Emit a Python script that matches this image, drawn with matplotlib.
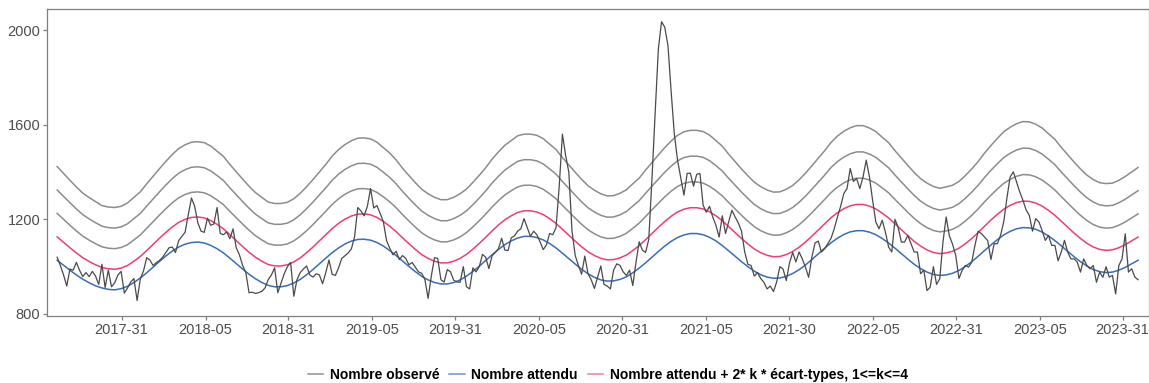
import pandas as pd
import matplotlib
matplotlib.use("Agg")
import matplotlib.pyplot as plt
from matplotlib.lines import Line2D

plt.rcParams['font.family'] = ['Liberation Sans', 'DejaVu Sans']

# semaines (lundi) du 2017-03-13 au 2023-09-04
debut = "2017-03-13"
nb_semaines = 339

observe = [
    1040, 1005, 965, 918, 990, 985, 1018, 985, 958, 975,
    958, 980, 960, 925, 1010, 912, 985, 915, 932, 965,
    980, 888, 910, 935, 950, 857, 948, 982, 1038, 1028,
    1005, 1017, 1026, 1040, 1060, 1080, 1083, 1060, 1110, 1128,
    1145, 1220, 1290, 1255, 1185, 1150, 1145, 1205, 1175, 1180,
    1250, 1140, 1135, 1147, 1118, 1160, 1080, 1050, 1005, 975,
    890, 892, 887, 890, 896, 910, 945, 965, 995, 890,
    930, 970, 1000, 1018, 875, 945, 975, 990, 1003, 965,
    956, 970, 965, 928, 975, 1028, 968, 963, 995, 1035,
    1046, 1058, 1075, 1125, 1250, 1235, 1215, 1255, 1330, 1248,
    1258, 1225, 1190, 1110, 1078, 1050, 1065, 1030, 1047, 1035,
    1008, 1018, 998, 978, 972, 945, 866, 960, 1038, 1035,
    945, 935, 988, 978, 943, 935, 934, 1000, 915, 906,
    995, 978, 1000, 1052, 1040, 992, 1046, 1060, 1076, 1120,
    1070, 1068, 1122, 1130, 1150, 1160, 1203, 1165, 1128, 1150,
    1135, 1105, 1072, 1092, 1140, 1135, 1165, 1340, 1560, 1470,
    1400, 1150, 1047, 1005, 968, 1045, 970, 945, 908, 955,
    1003, 925, 918, 906, 985, 1012, 1005, 978, 963, 985,
    920, 1018, 1105, 1070, 1060, 1115, 1370, 1650, 1920, 2035,
    2012, 1935, 1740, 1560, 1450, 1375, 1302, 1394, 1395, 1340,
    1390, 1394, 1260, 1230, 1255, 1210, 1175, 1125, 1215, 1140,
    1190, 1238, 1210, 1185, 1150, 1062, 1010, 1005, 960, 975,
    950, 934, 906, 918, 895, 935, 1000, 990, 941, 1015,
    1060, 1020, 1062, 1033, 998, 955, 1040, 1100, 1108, 1062,
    1076, 1097, 1120, 1160, 1210, 1255, 1309, 1330, 1415, 1360,
    1372, 1330, 1379, 1450, 1380, 1280, 1189, 1160, 1196, 1146,
    1083, 1062, 1200, 1165, 1104, 1104, 1132, 1097, 1062, 1062,
    970, 985, 899, 913, 1000, 925, 949, 1104, 1210, 1130,
    1095, 1047, 950, 984, 1005, 998, 1019, 1090, 1150, 1140,
    1125, 1110, 1030, 1097, 1097, 1132, 1189, 1290, 1379, 1401,
    1358, 1316, 1281, 1240, 1217, 1150, 1203, 1189, 1153, 1111,
    1132, 1090, 1090, 1025, 1062, 1111, 1062, 1033, 1033, 1019,
    977, 1033, 1005, 991, 1005, 934, 977, 955, 1000, 956,
    963, 885, 1005, 1033, 1139, 977, 991, 956, 945,
]

# nombre attendu et 2 * écart-type, une valeur toutes les 2 semaines
attendu = [
    1027, 1006, 985, 965, 947, 932, 919, 910, 904, 902,
    907, 917, 933, 952, 974, 998, 1022, 1045, 1066, 1083,
    1095, 1102, 1104, 1100, 1090, 1076, 1058, 1036, 1013, 990,
    968, 949, 933, 921, 915, 915, 920, 931, 946, 966,
    988, 1012, 1036, 1059, 1079, 1096, 1108, 1115, 1116, 1112,
    1102, 1087, 1068, 1047, 1024, 1001, 979, 959, 944, 933,
    927, 927, 933, 944, 960, 980, 1002, 1026, 1050, 1073,
    1093, 1109, 1121, 1128, 1128, 1123, 1113, 1098, 1079, 1057,
    1034, 1011, 989, 970, 955, 944, 939, 940, 946, 957,
    974, 994, 1016, 1040, 1064, 1087, 1107, 1123, 1134, 1140,
    1140, 1135, 1124, 1109, 1089, 1067, 1044, 1021, 1000, 981,
    966, 956, 951, 952, 959, 971, 987, 1007, 1030, 1054,
    1078, 1101, 1120, 1136, 1147, 1152, 1152, 1146, 1135, 1119,
    1100, 1078, 1055, 1032, 1010, 992, 977, 967, 963, 965,
    972, 984, 1001, 1021, 1044, 1068, 1092, 1114, 1134, 1149,
    1160, 1165, 1164, 1158, 1146, 1130, 1110, 1088, 1065, 1042,
    1021, 1003, 988, 979, 975, 977, 985, 997, 1012, 1027,
]

ecart2 = [
    99, 97, 95, 93, 91, 90, 89, 87, 87, 87,
    87, 88, 90, 91, 94, 96, 98, 100, 102, 104,
    105, 106, 106, 106, 105, 103, 102, 99, 97, 95,
    93, 91, 90, 88, 88, 88, 88, 89, 91, 93,
    95, 97, 99, 102, 104, 105, 106, 107, 107, 107,
    106, 104, 103, 101, 98, 96, 94, 92, 91, 90,
    89, 89, 90, 91, 92, 94, 96, 98, 101, 103,
    105, 106, 108, 108, 108, 108, 107, 105, 104, 101,
    99, 97, 95, 93, 92, 91, 90, 90, 91, 92,
    94, 95, 98, 100, 102, 104, 106, 108, 109, 109,
    109, 109, 108, 106, 105, 102, 100, 98, 96, 94,
    93, 92, 91, 91, 92, 93, 95, 97, 99, 101,
    103, 106, 108, 109, 110, 111, 111, 110, 109, 107,
    106, 103, 101, 99, 97, 95, 94, 93, 92, 93,
    93, 94, 96, 98, 100, 103, 105, 107, 109, 110,
    111, 112, 112, 111, 110, 108, 107, 104, 102, 100,
    98, 96, 95, 94, 94, 94, 95, 96, 97, 98,
]

ticks_dates = ["2017-08-01", "2018-02-01", "2018-08-01", "2019-02-01", "2019-08-01",
               "2020-02-01", "2020-08-01", "2021-02-01", "2021-08-01", "2022-02-01",
               "2022-08-01", "2023-02-01", "2023-08-01"]
ticks_labels = ["2017-31", "2018-05", "2018-31", "2019-05", "2019-31", "2020-05",
                "2020-31", "2021-05", "2021-30", "2022-05", "2022-31", "2023-05", "2023-31"]

col_obs = "#4a4a4a"
col_att = "#3a6db5"
col_seuil = "#ee3d78"
col_gris = "#8c8c8c"
col_axe = "#7f7f7f"


def main():
    semaines = pd.date_range(debut, periods=nb_semaines, freq="7D")
    sem2 = semaines[::2]
    att = pd.Series(attendu, index=sem2)
    ec = pd.Series(ecart2, index=sem2)

    fig = plt.figure(figsize=(11.49, 3.83), dpi=100)
    ax = fig.add_axes([0.041, 0.174, 0.959, 0.802])

    # seuils k = 2..4 en gris, k = 1 en rose
    for k in [4, 3, 2]:
        ax.plot(sem2, att + k * ec, color=col_gris, lw=1.1, zorder=2)
    ax.plot(sem2, att + ec, color=col_seuil, lw=1.1, zorder=3)
    ax.plot(sem2, att, color=col_att, lw=1.1, zorder=3)
    ax.plot(semaines, observe, color=col_obs, lw=0.9, zorder=4)

    ax.set_xlim(semaines[0] - pd.Timedelta(days=22), semaines[-1] + pd.Timedelta(days=24))
    ax.set_ylim(790, 2088)
    ax.set_yticks([800, 1200, 1600, 2000])
    ax.set_xticks(pd.to_datetime(ticks_dates))
    ax.set_xticklabels(ticks_labels)

    for s in ax.spines.values():
        s.set_color(col_axe)
        s.set_linewidth(0.9)
    ax.tick_params(colors=col_axe, labelcolor="#4d4d4d", labelsize=10.5,
                   length=3, width=0.9, pad=2)

    handles = [Line2D([], [], color="#8f8f8f", lw=1.1),
               Line2D([], [], color="#6d93cc", lw=1.1),
               Line2D([], [], color="#f07aa0", lw=1.1)]
    labels = ["Nombre observé", "Nombre attendu",
              "Nombre attendu + 2* k * écart-types, 1<=k<=4"]
    fig.legend(handles, labels, loc="center", bbox_to_anchor=(0.529, 0.022), ncol=3,
               frameon=False, prop={"weight": "bold", "size": 10},
               handlelength=1.1, handletextpad=0.5, columnspacing=0.7)

    fig.savefig("out.png", dpi=100)


if __name__ == "__main__":
    main()
